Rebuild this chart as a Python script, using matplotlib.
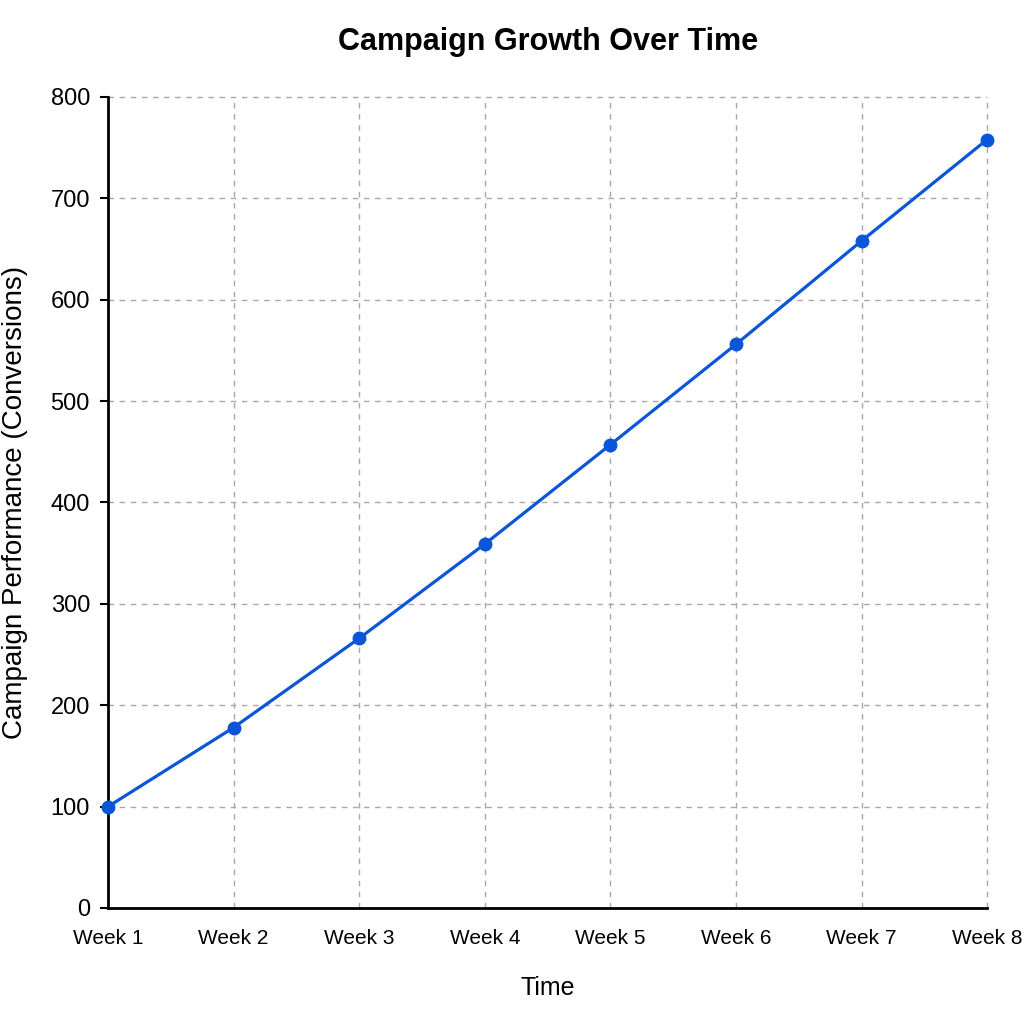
import matplotlib
matplotlib.use("Agg")
import matplotlib.pyplot as plt

weeks = ["Week 1", "Week 2", "Week 3", "Week 4", "Week 5", "Week 6", "Week 7", "Week 8"]
conversions = [100, 178, 266, 359, 457, 556, 658, 758]
y_ticks = [0, 100, 200, 300, 400, 500, 600, 700, 800]

fam = ["Liberation Sans", "DejaVu Sans"]

fig = plt.figure(figsize=(10.24, 10.24), dpi=100)
ax = fig.add_axes([0.1055, 0.1133, 0.8585, 0.792])

x = list(range(len(weeks)))
ax.plot(x, conversions, color="#0a55d8", linewidth=2.3, marker="o",
        markersize=9, zorder=3, clip_on=False)

ax.set_xlim(0, len(weeks) - 1)
ax.set_ylim(0, 800)
ax.set_xticks(x)
ax.set_xticklabels(weeks, family=fam, fontsize=15)
ax.set_yticks(y_ticks)
ax.set_yticklabels([str(v) for v in y_ticks], family=fam, fontsize=17)

ax.grid(True, linestyle=(0, (4, 4)), color="#a8a8a8", linewidth=1.0)
ax.set_axisbelow(True)
# keep the edge grid lines fully visible
for gl in ax.get_xgridlines() + ax.get_ygridlines():
    gl.set_clip_on(False)

for side in ["top", "right"]:
    ax.spines[side].set_visible(False)
ax.spines["left"].set_linewidth(2)
ax.spines["bottom"].set_linewidth(2)

ax.tick_params(axis="x", length=0, pad=15)
ax.tick_params(axis="y", length=6, width=1.5, pad=7)

ax.set_title("Campaign Growth Over Time", family=fam, fontsize=22,
             fontweight="bold", pad=34)
ax.set_xlabel("Time", family=fam, fontsize=18, labelpad=20)
ax.set_ylabel("Campaign Performance (Conversions)", family=fam,
              fontsize=20, labelpad=16)

fig.savefig("out.png", dpi=100, facecolor="white")
